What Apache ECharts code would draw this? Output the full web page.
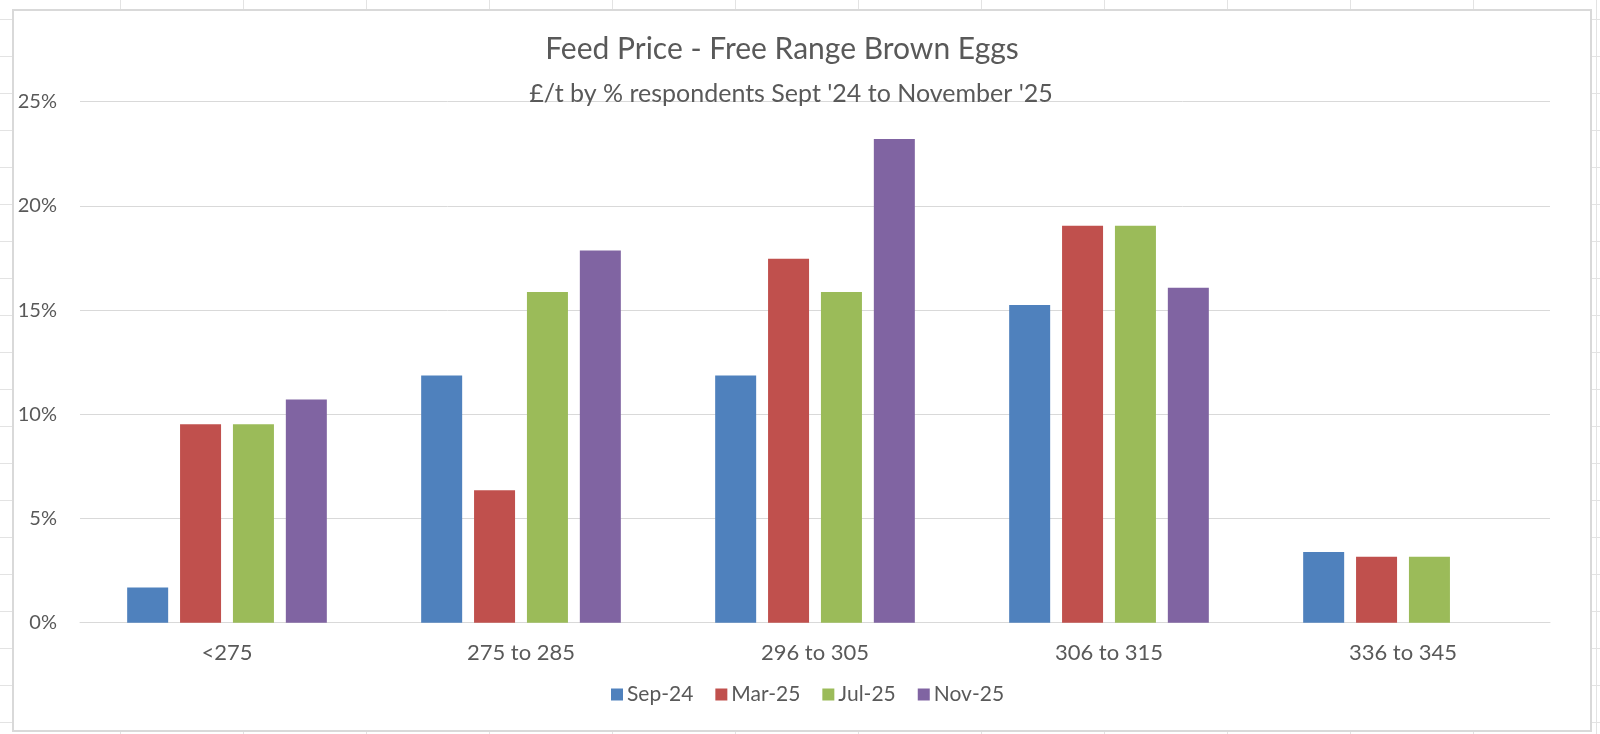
<!DOCTYPE html>
<html>
<head>
<meta charset="utf-8">
<script src="https://cdn.jsdelivr.net/npm/echarts@6/dist/echarts.min.js"></script>
<style>
html,body{margin:0;padding:0;width:1600px;height:734px;overflow:hidden;background:#fff;}
#bg{position:absolute;left:0;top:0;width:1600px;height:734px;}
#frame{position:absolute;left:12px;top:9px;width:1576px;height:719px;background:#fff;border:2px solid #d9d9d9;box-sizing:content-box;}
#chart{position:absolute;left:0;top:0;width:1600px;height:734px;}
.vl{position:absolute;top:0;width:1px;height:734px;background:#e3e3e3;}
.hl{position:absolute;left:0;width:1600px;height:1px;background:#e3e3e3;}
</style>
</head>
<body>
<div id="bg"></div>
<div id="frame"></div>
<div id="chart"></div>
<script>
const categories = ['<275', '275 to 285', '296 to 305', '306 to 315', '336 to 345'];
const seriesNames = ['Sep-24', 'Mar-25', 'Jul-25', 'Nov-25'];
const sep24 = [1.69, 11.86, 11.86, 15.25, 3.39];
const mar25 = [9.52, 6.35, 17.46, 19.05, 3.17];
const jul25 = [9.52, 15.87, 15.87, 19.05, 3.17];
const nov25 = [10.71, 17.86, 23.21, 16.07, null];
const yTicks = [0, 5, 10, 15, 20, 25];
const colors = ['#4F81BD', '#C0504D', '#9BBB59', '#8064A2'];

// spreadsheet cell lines behind the chart frame
const bg = document.getElementById('bg');
for (let x = 120; x < 1600; x += 123) { const d = document.createElement('div'); d.className = 'vl'; d.style.left = x + 'px'; bg.appendChild(d); }
for (let y = 19; y < 734; y += 37) { const d = document.createElement('div'); d.className = 'hl'; d.style.top = y + 'px'; bg.appendChild(d); }

const font = 'Lato';
const textColor = '#595959';
const chart = echarts.init(document.getElementById('chart'));
const allData = [sep24, mar25, jul25, nov25];
chart.setOption({
  backgroundColor: 'transparent',
  animation: false,
  title: [
    { text: 'Feed Price - Free Range Brown Eggs', left: 777, top: 29, textAlign: 'center',
      textStyle: { fontFamily: font, fontSize: 30, fontWeight: 'normal', color: textColor } },
    { text: "£/t by % respondents Sept '24 to November '25", left: 786, top: 76, textAlign: 'center',
      textStyle: { fontFamily: font, fontSize: 25, fontWeight: 'normal', color: textColor } }
  ],
  legend: {
    data: seriesNames, bottom: 24, left: 606, itemWidth: 12, itemHeight: 12, itemGap: 22,
    icon: 'rect',
    textStyle: { fontFamily: font, fontSize: 21, color: textColor, padding: [0, 0, 0, -1] }
  },
  grid: { left: 80, right: 50, top: 101.7, bottom: 111.3, containLabel: false },
  xAxis: {
    type: 'category', data: categories,
    axisLine: { lineStyle: { color: '#d9d9d9', width: 1 } },
    axisTick: { show: false },
    axisLabel: { fontFamily: font, fontSize: 22, color: textColor, margin: 19 }
  },
  yAxis: {
    type: 'value', min: 0, max: 25, interval: 5,
    axisLine: { show: false }, axisTick: { show: false },
    splitLine: { lineStyle: { color: '#d9d9d9', width: 1 } },
    axisLabel: { fontFamily: font, fontSize: 20, color: textColor, margin: 23, formatter: v => v + '%' }
  },
  series: seriesNames.map((n, i) => ({
    name: n, type: 'bar', data: allData[i], barWidth: 41, barGap: '29%',
    itemStyle: { color: colors[i] }
  }))
});
</script>
</body>
</html>
